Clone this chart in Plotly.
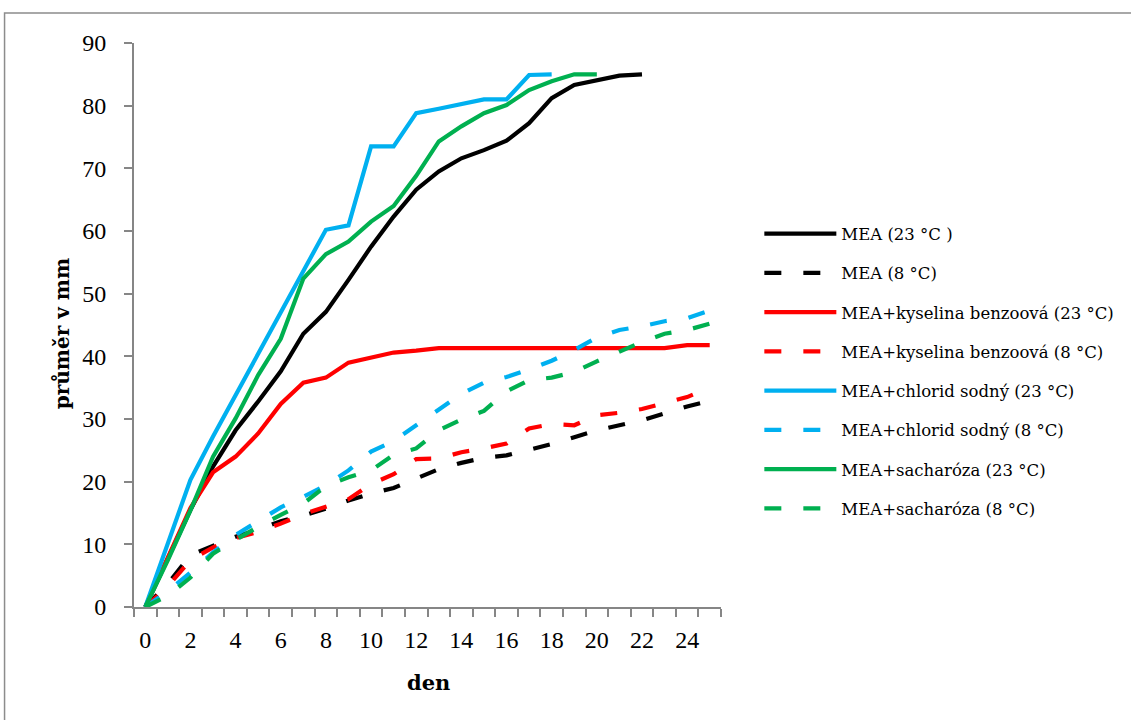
import plotly.graph_objects as go

days = list(range(26))

mea_23 = [0, 7.8, 15.5, 22.4, 28.2, 32.8, 37.6, 43.6, 47.1, 52.2, 57.5, 62.3, 66.6, 69.5, 71.6, 72.9, 74.4, 77.2, 81.2, 83.3, 84.1, 84.8, 85.0]
mea_8 = [0, 3.7, 8.3, 9.8, 11.2, 12.3, 13.7, 14.6, 15.7, 17.0, 18.1, 19.0, 20.5, 22.0, 23.0, 23.8, 24.2, 25.1, 26.0, 27.1, 28.2, 29.0, 29.8, 30.9, 32.0, 32.9]
kys_23 = [0, 8.0, 15.8, 21.5, 24.0, 27.7, 32.4, 35.8, 36.6, 39.0, 39.8, 40.6, 40.9, 41.3, 41.3, 41.3, 41.3, 41.3, 41.3, 41.3, 41.3, 41.3, 41.3, 41.3, 41.8, 41.8]
kys_8 = [0, 3.3, 7.5, 9.5, 11.0, 12.0, 13.3, 14.8, 16.0, 17.2, 19.6, 21.2, 23.6, 23.7, 24.7, 25.3, 26.1, 28.5, 29.2, 29.0, 30.6, 31.0, 31.6, 32.5, 33.5, 35.0]
nacl_23 = [0, 10.0, 20.3, 27.2, 33.8, 40.6, 47.3, 53.8, 60.2, 60.9, 73.5, 73.5, 78.8, 79.5, 80.2, 81.0, 81.0, 84.9, 85.0]
nacl_8 = [0, 2.5, 5.5, 8.7, 11.5, 13.7, 15.9, 17.6, 19.4, 21.8, 24.8, 26.5, 29.0, 31.5, 34.0, 35.8, 36.7, 37.9, 39.3, 41.0, 43.0, 44.2, 44.8, 45.6, 46.1, 47.3]
sach_23 = [0, 7.5, 15.4, 24.0, 30.1, 37.0, 42.8, 52.4, 56.3, 58.3, 61.5, 64.0, 68.8, 74.3, 76.7, 78.8, 80.1, 82.5, 83.9, 85.0, 85.0]
sach_8 = [0, 1.8, 4.7, 8.5, 10.7, 12.8, 14.7, 16.5, 19.3, 20.7, 21.8, 24.3, 25.3, 28.2, 29.9, 31.3, 34.4, 36.2, 36.6, 37.5, 39.2, 40.8, 42.3, 43.6, 44.2, 45.2]

names = ["MEA (23 °C )", "MEA (8 °C)",
         "MEA+kyselina benzoová (23 °C)", "MEA+kyselina benzoová (8 °C)",
         "MEA+chlorid sodný (23 °C)", "MEA+chlorid sodný (8 °C)",
         "MEA+sacharóza (23 °C)", "MEA+sacharóza (8 °C)"]
series = [mea_23, mea_8, kys_23, kys_8, nacl_23, nacl_8, sach_23, sach_8]
colors = ["#000000", "#000000", "#FF0000", "#FF0000", "#00B0F0", "#00B0F0", "#00B050", "#00B050"]
dashed = [False, True, False, True, False, True, False, True]

x_ticks = list(range(0, 25, 2))
y_ticks = list(range(0, 91, 10))

FONT = "DejaVu Serif"
TICKFONT = "Liberation Serif"
AX = "#868686"

# plot-area pixel geometry
L, R, T, B = 134, 723.5, 43.3, 606.7
W, H = 1131, 720
def xp(px):
    return (px - L) / (R - L)
def yp(py):
    return 1 - (py - T) / (B - T)

fig = go.Figure()
for n, s, c, d in zip(names, series, colors, dashed):
    fig.add_trace(go.Scatter(
        x=days[:len(s)], y=s, name=n, mode="lines", legendgroup=n,
        line=dict(color=c, width=4.2, dash="17px,22px" if d else "solid"),
    ))

fig.update_layout(
    width=W, height=H,
    margin=dict(l=L, r=W - R, t=T, b=H - B, pad=0),
    paper_bgcolor="white", plot_bgcolor="white",
    font=dict(family=FONT, color="black"),
    showlegend=True,
    legend=dict(
        x=xp(762), y=yp(216.5), xanchor="left", yanchor="top",
        font=dict(family=FONT, size=16.5, color="black"),
        tracegroupgap=14.8, itemwidth=72, bgcolor="rgba(0,0,0,0)",
    ),
    xaxis=dict(
        range=[-0.5, 25.5], tickvals=x_ticks, ticktext=[str(v) for v in x_ticks],
        ticks="", showgrid=False, zeroline=False,
        showline=True, linecolor=AX, linewidth=2,
        tickfont=dict(family=TICKFONT, size=24, color="black"),
        ticklabelstandoff=10,
        minor=dict(tick0=-0.5, dtick=1, ticks="outside", ticklen=8, tickcolor=AX, tickwidth=2, showgrid=False),
    ),
    yaxis=dict(
        range=[0, 90], tickvals=y_ticks, ticks="outside", ticklen=8, tickcolor=AX, tickwidth=2,
        showgrid=False, zeroline=False, showline=True, linecolor=AX, linewidth=2,
        tickfont=dict(family=TICKFONT, size=24, color="black"),
        ticklabelstandoff=13,
    ),
    annotations=[
        dict(text="<b>průměr v mm</b>", x=xp(62), y=yp(334), xref="paper", yref="paper",
             showarrow=False, textangle=-90, font=dict(family=FONT, size=20, color="black"),
             xanchor="center", yanchor="middle"),
        dict(text="<b>den</b>", x=xp(430), y=yp(682), xref="paper", yref="paper",
             showarrow=False, font=dict(family=FONT, size=21, color="black"),
             xanchor="center", yanchor="middle"),
    ],
    shapes=[
        dict(type="rect", xref="paper", yref="paper", x0=xp(4), x1=xp(1140), y0=yp(740), y1=yp(13.3),
             line=dict(color="#8c8c8c", width=1.5), fillcolor="rgba(0,0,0,0)", layer="below"),
    ],
)

fig.write_html("out.html")
